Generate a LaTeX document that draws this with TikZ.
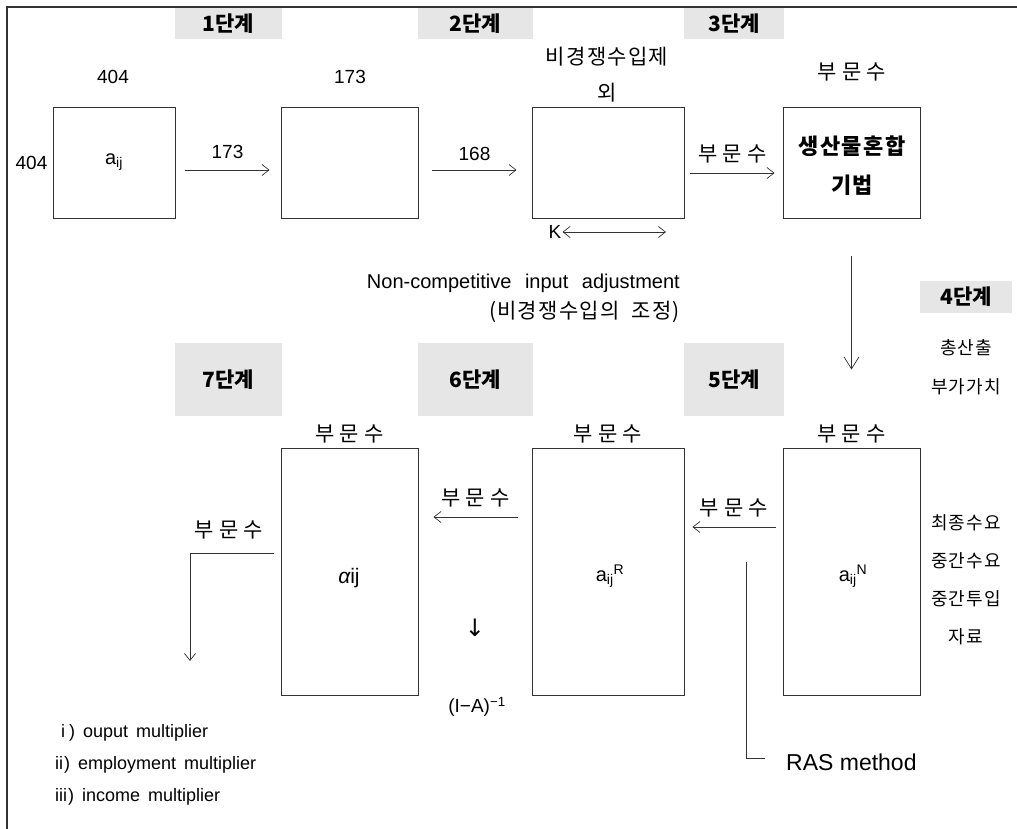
\documentclass[tikz,border=0pt]{standalone}
\usepackage{fontspec}
\usetikzlibrary{arrows.meta,positioning}
\setmainfont{Liberation Sans}
\newfontfamily\kr[LetterSpace=25]{Noto Sans CJK KR}
\newfontfamily\krn[LetterSpace=6]{Noto Sans CJK KR}
\newfontfamily\krs{Noto Sans CJK KR}
\newfontfamily\dejavu{DejaVu Sans}
\definecolor{stagegray}{HTML}{E6E6E6}
\definecolor{inkline}{HTML}{333333}
\tikzset{
  mat/.style={draw=inkline, line width=0.9pt, inner sep=0pt},
  stage/.style={fill=stagegray, inner sep=0pt, font=\fontsize{21}{24}\selectfont\krs\bfseries},
  kor/.style={inner sep=1pt, font=\fontsize{21}{23}\selectfont\kr},
  kors/.style={inner sep=1pt, font=\fontsize{18}{20}\selectfont\krn},
  num/.style={inner sep=1pt, font=\fontsize{19}{21}\selectfont},
  arr/.style={draw=inkline, line width=0.7pt, -{Straight Barb[length=7pt,width=11pt]}},
  darr/.style={draw=inkline, line width=0.7pt, {Straight Barb[length=7pt,width=11pt]}-{Straight Barb[length=7pt,width=11pt]}},
  varr/.style={draw=inkline, line width=0.7pt, -{Straight Barb[length=12pt,width=15pt]}}
}
\begin{document}
\begin{tikzpicture}[x=1pt,y=-1pt]
  \useasboundingbox (0,0) rectangle (1017,829);
  \draw[inkline, line width=1.2pt] (7,829) -- (7,7) -- (1017,7);

  % stages
  \node[stage, minimum width=107pt, minimum height=31pt] (st1) at (228.5,24) {1단계};
  \node[stage, minimum width=115pt, minimum height=31pt] (st2) at (475.5,24) {2단계};
  \node[stage, minimum width=100pt, minimum height=31pt] (st3) at (734,24) {3단계};
  \node[stage, minimum width=92pt, minimum height=32pt] (st4) at (966,297) {4단계};
  \node[stage, minimum width=107pt, minimum height=73pt] (st7) at (228.5,379.5) {7단계};
  \node[stage, minimum width=115pt, minimum height=73pt] (st6) at (475.5,379.5) {6단계};
  \node[stage, minimum width=100pt, minimum height=73pt] (st5) at (734,379.5) {5단계};

  % top row of tables
  \node[mat, minimum width=122pt, minimum height=111pt] (b1) at (114,162.5) {\fontsize{20}{22}\selectfont a\textsubscript{ij}};
  \node[mat, minimum width=137pt, minimum height=111pt] (b2) at (349.5,162.5) {};
  \node[mat, minimum width=152pt, minimum height=111pt] (b3) at (608,162.5) {};
  \node[mat, minimum width=137pt, minimum height=111pt] (b4) at (851.5,162.5) {};
  \node[align=center, font=\fontsize{22}{39}\selectfont\krn\bfseries] (b4t) at (852,166) {생산물혼합\\기법};

  \node[num] (r1) at (113,77) {404};
  \node[num, left=4pt of b1] (c1) {404};
  \node[num] (r2) at (350,77) {173};
  \node[kors, align=center, font=\fontsize{21}{36}\selectfont\krn] (r3) at (607,75) {비경쟁수입제\\외};
  \node[kor] (r4) at (852,72) {부문수};

  \draw[arr] ([xshift=10pt,yshift=-7.5pt]b1.east) -- node[num, above=10pt] (l1) {173} ([xshift=-11pt,yshift=-7.5pt]b2.west);
  \draw[arr] ([xshift=14pt,yshift=-7.5pt]b2.east) -- node[num, above=8pt] (l2) {168} ([xshift=-15pt,yshift=-7.5pt]b3.west);
  \draw[arr] ([xshift=6pt,yshift=-10.5pt]b3.east) -- node[kor, above=9pt] (l3) {부문수} ([xshift=-8pt,yshift=-10.5pt]b4.west);

  \node[num] (kk) at (555,232) {K};
  \coordinate (kend) at (666,232);
  \draw[darr] (kk.east) -- (kend);

  \node[num, align=right, anchor=east, font=\fontsize{20}{30}\selectfont] (nci) at (681,298)
    {Non-competitive\hspace{8pt} input\hspace{8pt} adjustment\\{\fontsize{21}{30}\selectfont\krn (비경쟁수입의\hspace{6pt} 조정)}};

  \node[kors] (s41) at (966,348) {총산출};
  \node[kors] (s42) at (966,387) {부가가치};

  % bottom row of tables
  \node[mat, minimum width=137pt, minimum height=247pt] (b5) at (349.5,571.5) {};
  \node[mat, minimum width=152pt, minimum height=247pt] (b6) at (608,571.5) {};
  \node[mat, minimum width=137pt, minimum height=247pt] (b7) at (851.5,571.5) {};
  \node[num, font=\fontsize{21}{23}\selectfont] (t5) at (349,578) {\itshape α\upshape ij};
  \node[num, font=\fontsize{20}{22}\selectfont] (t6) at (610,576) {a\textsubscript{ij}\textsuperscript{R}};
  \node[num, font=\fontsize{20}{22}\selectfont] (t7) at (853,576) {a\textsubscript{ij}\textsuperscript{N}};

  \foreach \b in {5,6,7}
    \node[kor, above=3pt of b\b] (h\b) {부문수};

  \draw[varr] ([yshift=-38pt]b4.south) -- ([yshift=78pt]b7.north);

  \draw[arr] ([xshift=-7pt,yshift=44.5pt]b7.west) -- node[kor, above=9pt] (l5) {부문수} ([xshift=8pt,yshift=44.5pt]b6.east);
  \draw[arr] ([xshift=-14pt,yshift=54.5pt]b6.west) -- node[kor, above=9pt] (l6) {부문수} ([xshift=15pt,yshift=54.5pt]b5.east);

  \coordinate (lend) at (190,661);
  \draw[arr] ([xshift=-7pt,yshift=18.5pt]b5.west) -| (lend);
  \node[kor] (l7) at (229,530) {부문수};

  \node[inner sep=0pt, font=\fontsize{24}{26}\selectfont\dejavu] (inv1) at (475,628) {↓};
  \node[num] (inv) at (477,707) {(I−A)\textsuperscript{−1}};

  \node[num, anchor=west, font=\fontsize{23}{25}\selectfont] (ras) at (785,762) {RAS method};
  \coordinate (rastop) at (746,562);
  \draw[inkline, line width=0.7pt] (rastop) |- ([xshift=-20pt,yshift=4pt]ras.west);

  \foreach \t [count=\i] in {최종수요,중간수요,중간투입,자료}
    \node[kors] (rs\i) at (966,485+38*\i) {\t};

  % multipliers
  \node[num, anchor=west, font=\fontsize{18}{20}\selectfont] (m1) at (60,733) {i\hspace{4pt})\hspace{8pt}ouput\hspace{8pt}multiplier};
  \node[num, anchor=west, font=\fontsize{18}{20}\selectfont] (m2) at (54,765) {ii\hspace{1pt})\hspace{8pt}employment\hspace{8pt}multiplier};
  \node[num, anchor=west, font=\fontsize{18}{20}\selectfont] (m3) at (54,797) {iii\hspace{1pt})\hspace{8pt}income\hspace{8pt}multiplier};
\end{tikzpicture}
\end{document}
